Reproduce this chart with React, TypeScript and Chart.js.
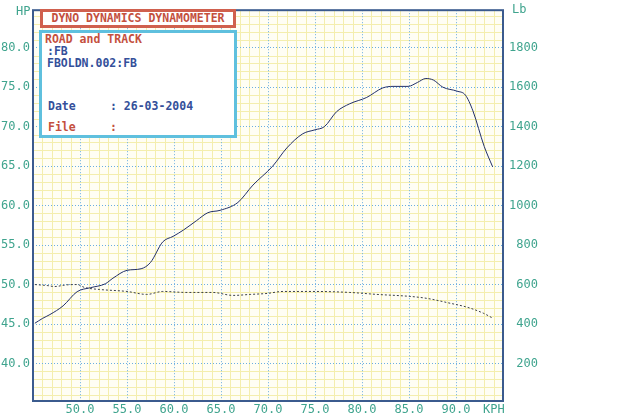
import React, { useEffect, useRef } from "react";
import { Chart, registerables } from "chart.js";

Chart.register(...registerables);

// ---- data ----
const hpSpeed = [45.2, 46.0, 46.8, 48.2, 49.7, 51.1, 52.7, 53.5, 55.0, 56.5, 57.5, 58.8, 59.9, 61.0, 62.4, 63.6, 64.9, 66.8, 68.4, 70.5, 72.0, 73.7, 75.0, 76.0, 77.3, 78.7, 80.5, 82.2, 83.3, 84.9, 85.9, 86.8, 87.6, 88.6, 90.1, 91.0, 91.8, 93.0, 93.9];
const hpValues = [45.1, 45.7, 46.2, 47.3, 49.1, 49.6, 50.1, 50.8, 51.8, 52.0, 52.8, 55.4, 56.1, 56.9, 58.1, 59.1, 59.4, 60.4, 62.6, 65.0, 67.3, 69.1, 69.6, 70.0, 71.9, 72.9, 73.7, 74.9, 75.1, 75.1, 75.6, 76.1, 75.9, 75.0, 74.5, 74.0, 72.0, 67.5, 64.9];
const lbSpeed = [45.2, 46.5, 47.3, 48.5, 49.7, 50.5, 52.1, 55.0, 57.1, 58.8, 61.4, 64.1, 66.3, 68.1, 69.9, 71.6, 75.0, 78.7, 81.6, 85.1, 86.9, 89.4, 91.2, 92.9, 93.9];
const lbValues = [600, 595, 590, 598, 600, 585, 575, 565, 550, 565, 560, 560, 545, 550, 555, 565, 565, 560, 550, 540, 530, 505, 485, 455, 430];

const kphTicks = [50, 55, 60, 65, 70, 75, 80, 85, 90];
const hpTicks = [40, 45, 50, 55, 60, 65, 70, 75, 80];
const lbTicks = [200, 400, 600, 800, 1000, 1200, 1400, 1600, 1800];
const kphRange = [45, 95];
const hpRange = [35.25, 84.75];
const lbRange = [10, 1990];

const TEAL = "#3fa48e";
const MONO = "'DejaVu Sans Mono', 'Liberation Mono', monospace";

const gridPlugin = {
  id: "dynoGrid",
  beforeDraw(chart: any) {
    const { ctx, chartArea: a, scales } = chart;
    ctx.save();
    ctx.fillStyle = "#fffef4";
    ctx.fillRect(a.left, a.top, a.right - a.left, a.bottom - a.top);
    ctx.strokeStyle = "#f4eeae";
    ctx.lineWidth = 1;
    ctx.beginPath();
    for (let v = Math.ceil(kphRange[0]); v <= kphRange[1]; v += 1) {
      if (v % 5 === 0) continue;
      const x = Math.round(scales.x.getPixelForValue(v)) + 0.5;
      ctx.moveTo(x, a.top);
      ctx.lineTo(x, a.bottom);
    }
    for (let v = Math.ceil(hpRange[0]); v <= hpRange[1]; v += 1) {
      if (v % 5 === 0) continue;
      const y = Math.round(scales.y.getPixelForValue(v)) + 0.5;
      ctx.moveTo(a.left, y);
      ctx.lineTo(a.right, y);
    }
    ctx.stroke();
    ctx.restore();
  },
  afterDraw(chart: any) {
    const { ctx, chartArea: a } = chart;
    ctx.save();
    ctx.strokeStyle = "#3b5b8e";
    ctx.lineWidth = 2;
    ctx.strokeRect(a.left, a.top, a.right - a.left, a.bottom - a.top);
    ctx.restore();
  },
};

export default function App() {
  const ref = useRef<HTMLCanvasElement | null>(null);

  useEffect(() => {
    if (!ref.current) return;
    const chart = new Chart(ref.current, {
      type: "line",
      data: {
        datasets: [
          {
            label: "HP",
            data: hpSpeed.map((x, i) => ({ x, y: hpValues[i] })),
            yAxisID: "y",
            borderColor: "#22306a",
            borderWidth: 1,
            pointRadius: 0,
            cubicInterpolationMode: "monotone",
            fill: false,
          },
          {
            label: "Lb",
            data: lbSpeed.map((x, i) => ({ x, y: lbValues[i] })),
            yAxisID: "y1",
            borderColor: "#3a3f4a",
            borderWidth: 1,
            borderDash: [2, 2],
            pointRadius: 0,
            cubicInterpolationMode: "monotone",
            fill: false,
          },
        ],
      },
      options: {
        animation: false,
        responsive: false,
        devicePixelRatio: 1,
        layout: { padding: { top: 5, right: 102, left: 0, bottom: 0 } },
        plugins: { legend: { display: false }, tooltip: { enabled: false } },
        scales: {
          x: {
            type: "linear",
            min: kphRange[0],
            max: kphRange[1],
            afterBuildTicks: (s: any) => {
              s.ticks = kphTicks.map((v) => ({ value: v }));
            },
            afterFit: (s: any) => {
              s.height = 15;
            },
            grid: { color: "#6aaee2", lineWidth: 1, drawTicks: false },
            border: { display: false, dash: [1, 2] },
            ticks: {
              color: TEAL,
              font: { family: MONO, size: 12 },
              padding: 2,
              maxRotation: 0,
              autoSkip: false,
              callback: (v: any) => Number(v).toFixed(1),
            },
          },
          y: {
            type: "linear",
            position: "left",
            min: hpRange[0],
            max: hpRange[1],
            afterBuildTicks: (s: any) => {
              s.ticks = hpTicks.map((v) => ({ value: v }));
            },
            afterFit: (s: any) => {
              s.width = 33;
            },
            grid: { color: "#6aaee2", lineWidth: 1, drawTicks: false },
            border: { display: false, dash: [1, 2] },
            ticks: {
              color: TEAL,
              font: { family: MONO, size: 12 },
              padding: 3,
              autoSkip: false,
              callback: (v: any) => Number(v).toFixed(1),
            },
          },
          y1: {
            type: "linear",
            position: "right",
            min: lbRange[0],
            max: lbRange[1],
            afterBuildTicks: (s: any) => {
              s.ticks = lbTicks.map((v) => ({ value: v }));
            },
            afterFit: (s: any) => {
              s.width = 35;
            },
            grid: { display: false, drawTicks: false },
            border: { display: false },
            ticks: {
              color: TEAL,
              font: { family: MONO, size: 12 },
              padding: 3,
              autoSkip: false,
              crossAlign: "far",
              callback: (v: any) => String(v),
            },
          },
        },
      },
      plugins: [gridPlugin],
    } as any);
    return () => chart.destroy();
  }, []);

  const txt = (
    s: string,
    left: number,
    cy: number,
    color: string,
    extra: React.CSSProperties = {}
  ) => (
    <div
      style={{
        position: "absolute",
        left,
        top: cy - 7,
        height: 14,
        lineHeight: "14px",
        fontFamily: MONO,
        fontSize: 11.5,
        fontWeight: "bold",
        color,
        whiteSpace: "pre",
        ...extra,
      }}
    >
      {s}
    </div>
  );

  const RED = "#c4503e";
  const BLUE = "#34509a";

  return (
    <div
      style={{
        position: "absolute",
        left: 0,
        top: 0,
        width: 640,
        height: 416,
        background: "#ffffff",
        overflow: "hidden",
      }}
    >
      <canvas ref={ref} width={640} height={416} style={{ display: "block", width: 640, height: 416 }} />
      {txt("HP", 16, 11, TEAL, { fontSize: 12, fontWeight: "normal" })}
      {txt("Lb", 512, 9, TEAL, { fontSize: 12, fontWeight: "normal" })}
      {txt("KPH", 483, 409, TEAL, { fontSize: 12, fontWeight: "normal" })}
      <div
        style={{
          position: "absolute",
          left: 40,
          top: 9,
          width: 196,
          height: 19,
          boxSizing: "border-box",
          border: "3px solid #d0604e",
          background: "#ffffff",
          color: RED,
          fontFamily: MONO,
          fontSize: 11.5,
          fontWeight: "bold",
          lineHeight: "13px",
          textAlign: "center",
        }}
      >
        DYNO DYNAMICS DYNAMOMETER
      </div>
      <div
        style={{
          position: "absolute",
          left: 39,
          top: 30,
          width: 198,
          height: 108,
          boxSizing: "border-box",
          border: "3px solid #5fc0de",
          background: "#ffffff",
        }}
      />
      {txt("ROAD and TRACK", 45, 39, RED)}
      {txt(":FB", 47, 51, BLUE)}
      {txt("FBOLDN.002:FB", 47, 63, BLUE)}
      {txt("Date", 48, 106, BLUE)}
      {txt(": 26-03-2004", 110, 106, BLUE)}
      {txt("File", 48, 127, RED)}
      {txt(":", 110, 127, RED)}
    </div>
  );
}
